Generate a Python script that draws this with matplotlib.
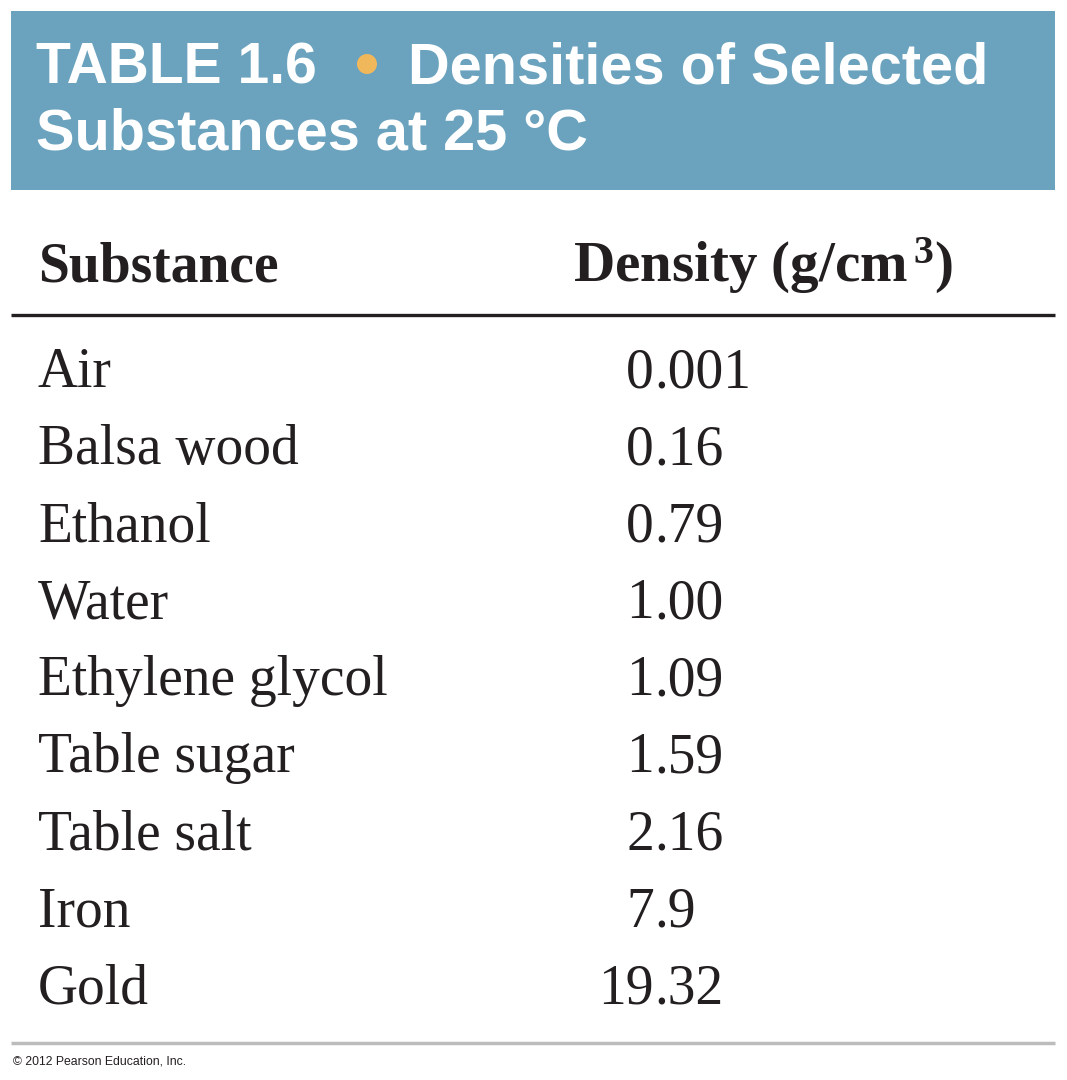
import matplotlib
matplotlib.use("Agg")
import matplotlib.pyplot as plt
from matplotlib.patches import Rectangle, Circle

plt.rcParams["mathtext.fontset"] = "custom"
plt.rcParams["mathtext.rm"] = "Liberation Serif:bold"
plt.rcParams["mathtext.it"] = "Liberation Serif:bold"
plt.rcParams["mathtext.bf"] = "Liberation Serif:bold"

# table contents
title_left = "TABLE 1.6"
title_right = "Densities of Selected"
title_line2 = "Substances at 25 °C"
col_headers = ["Substance", r"Density (g/cm$^{\,3}$)"]
substances = ["Air", "Balsa wood", "Ethanol", "Water", "Ethylene glycol",
              "Table sugar", "Table salt", "Iron", "Gold"]
densities = ["0.001", "0.16", "0.79", "1.00", "1.09", "1.59", "2.16", "7.9", "19.32"]
credit = "© 2012 Pearson Education, Inc."

W, H = 1067, 1080
fig = plt.figure(figsize=(W / 100, H / 100), dpi=100)
ax = fig.add_axes([0, 0, 1, 1])
ax.set_xlim(0, W)
ax.set_ylim(H, 0)
ax.axis("off")

# blue banner
ax.add_patch(Rectangle((11, 11), 1044, 179, color="#6ba3bf", lw=0))
sans = "Liberation Sans"
ax.text(36, 83, title_left, color="white", fontsize=41, fontweight="bold",
        family=sans, va="baseline")
ax.add_patch(Circle((367, 64), 10, color="#f0b75b", lw=0))
ax.text(408, 83, title_right, color="white", fontsize=41.5, fontweight="bold",
        family=sans, va="baseline")
ax.text(36, 150, title_line2, color="white", fontsize=41.5, fontweight="bold",
        family=sans, va="baseline")

serif = "Liberation Serif"
ink = "#231f20"
ax.text(38, 282, col_headers[0], fontsize=40, fontweight="bold", family=serif,
        va="baseline", color=ink)
ax.text(573, 282, col_headers[1], fontsize=41, fontweight="bold", family=serif,
        va="baseline", color=ink)
ax.plot([11, 1055], [315, 315], color=ink, lw=2.4, solid_capstyle="butt")

# rows, numbers lined up on the decimal point
dec_x = 654
for i, (name, val) in enumerate(zip(substances, densities)):
    y = 387 + i * 77.1
    ax.text(38, y, name, fontsize=40, family=serif, va="baseline", color=ink)
    whole, frac = val.split(".")
    ax.text(dec_x, y, whole, fontsize=40, family=serif, va="baseline",
            ha="right", color=ink)
    ax.text(dec_x, y, "." + frac, fontsize=40, family=serif, va="baseline",
            ha="left", color=ink)

ax.plot([11, 1055], [1043, 1043], color="#bcbcbc", lw=2.5, solid_capstyle="butt")
ax.text(13, 1062, credit, fontsize=8.8, family=sans, va="center", color=ink)

fig.savefig("out.png", dpi=100)
